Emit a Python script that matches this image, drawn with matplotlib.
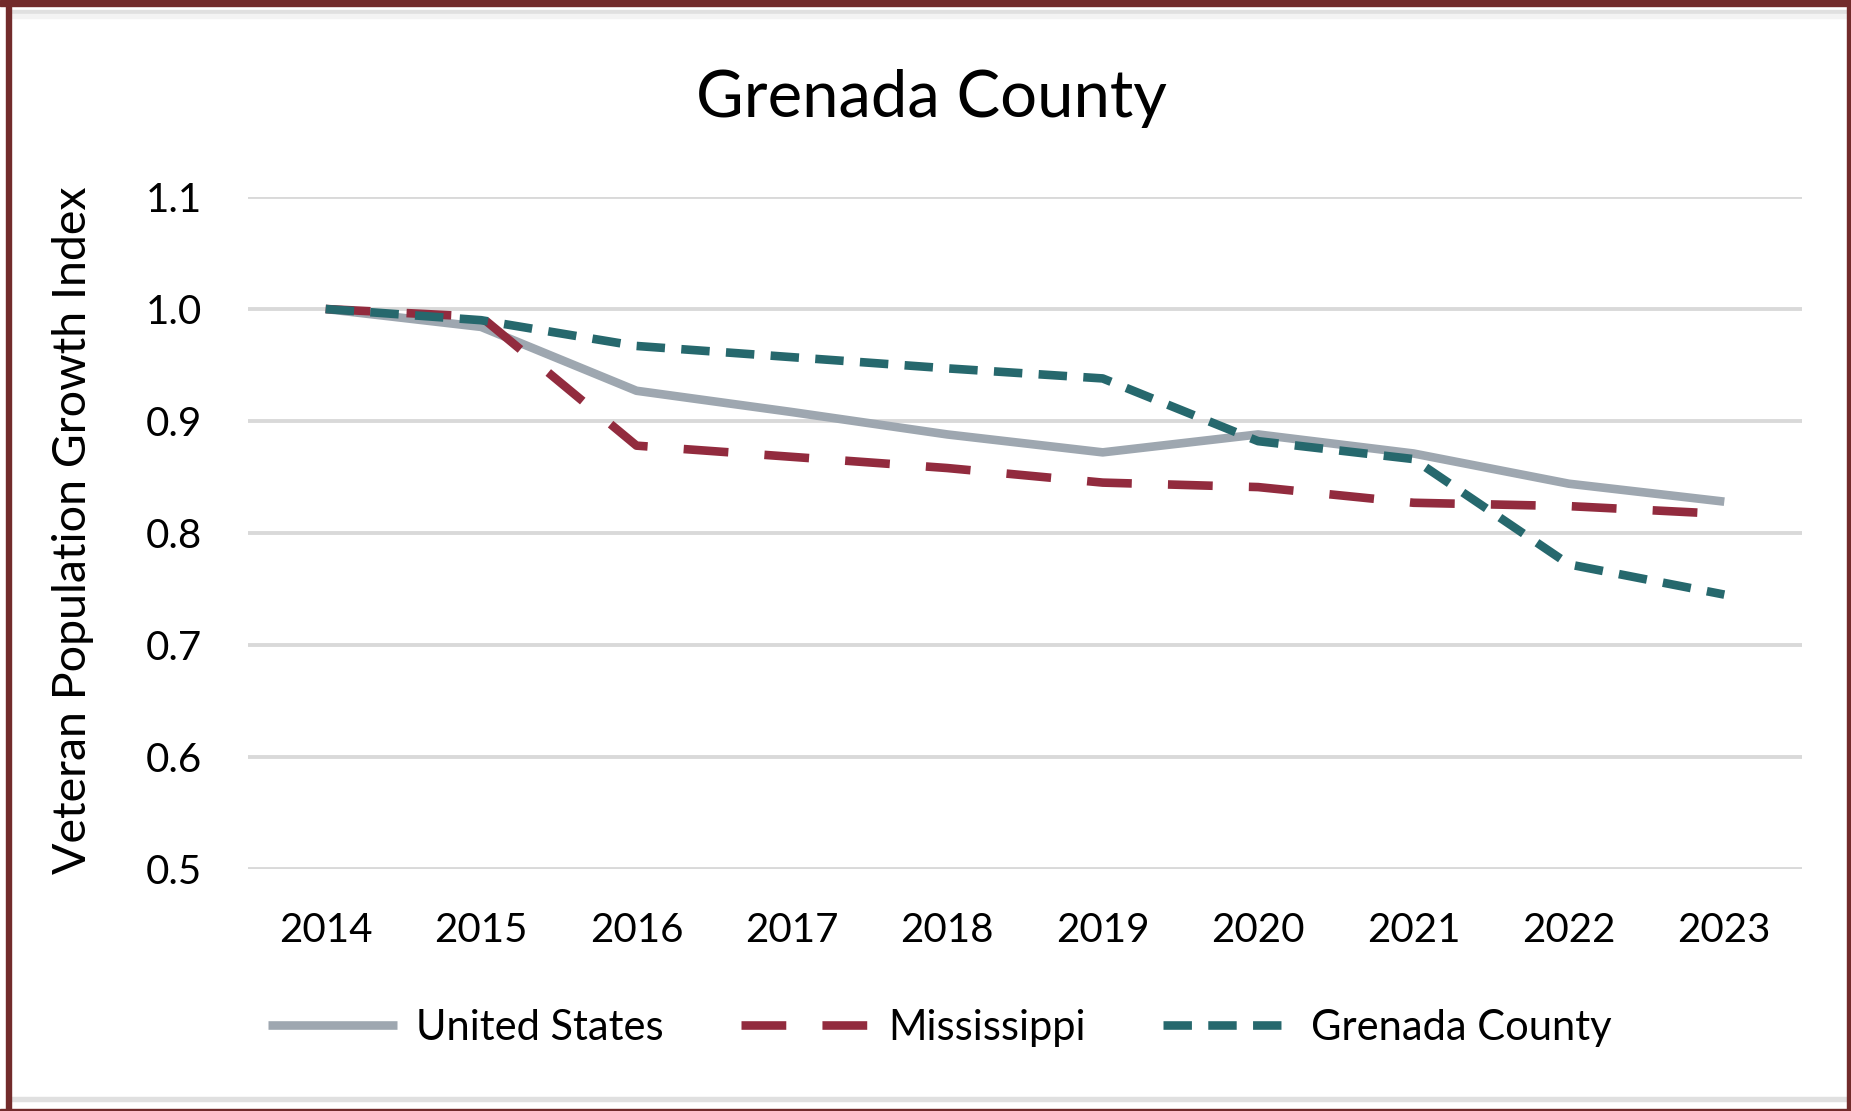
import matplotlib
matplotlib.use("Agg")
import matplotlib.pyplot as plt
from matplotlib.patches import Rectangle

years = ['2014', '2015', '2016', '2017', '2018', '2019', '2020', '2021', '2022', '2023']
united_states = [1.000, 0.984, 0.927, 0.908, 0.888, 0.872, 0.888, 0.871, 0.844, 0.828]
mississippi = [1.000, 0.993, 0.878, 0.868, 0.858, 0.845, 0.841, 0.827, 0.824, 0.817]
grenada = [1.000, 0.990, 0.967, 0.957, 0.947, 0.938, 0.882, 0.866, 0.772, 0.745]
y_ticks = [0.5, 0.6, 0.7, 0.8, 0.9, 1.0, 1.1]

plt.rcParams['font.family'] = ['Lato', 'DejaVu Sans']

W, H = 1851, 1111
fig = plt.figure(figsize=(W / 100, H / 100), dpi=100)
ax = fig.add_axes([248 / W, 1 - 869 / H, (1802 - 248) / W, (869 - 197) / H])

x = range(len(years))
lw = 6.2
ax.plot(x, united_states, color='#9EA7B0', lw=lw, solid_capstyle='butt',
        label='United States', zorder=3)
ax.plot(x, mississippi, color='#922B3E', lw=lw, linestyle=(0, (5.2, 4.2)),
        dash_capstyle='butt', label='Mississippi', zorder=4)
ax.plot(x, grenada, color='#26686D', lw=lw, linestyle=(0, (3.3, 1.9)),
        dash_capstyle='butt', label='Grenada County', zorder=5)

ax.set_xlim(-0.5, len(years) - 0.5)
ax.set_ylim(0.5, 1.1)
ax.set_xticks(list(x))
ax.set_xticklabels(years)
ax.set_yticks(y_ticks)
ax.set_yticklabels(['{:.1f}'.format(v) for v in y_ticks])
ax.tick_params(length=0, labelsize=29, colors='#000000')
ax.tick_params(axis='y', pad=33)
ax.tick_params(axis='x', pad=31)
ax.grid(axis='y', color='#D9D9D9', lw=2.8, zorder=0)
for s in ax.spines.values():
    s.set_visible(False)

fig.text(73 / W, 1 - 530 / H, 'Veteran Population Growth Index', rotation=90,
         ha='center', va='center', fontsize=33.5)
fig.text(931 / W, 1 - 117 / H, 'Grenada County', ha='center', va='baseline',
         fontsize=47)

fig.legend(loc='center', bbox_to_anchor=(940 / W, 1 - 1028 / H), ncol=3,
           frameon=False, fontsize=30, handlelength=3.1, columnspacing=1.85,
           handletextpad=0.45)

# outer frame
border = '#722B2B'
fig.patches.append(Rectangle((0, 1 - 6 / H), 1, 6 / H, transform=fig.transFigure,
                             color=border, zorder=10))
fig.patches.append(Rectangle((6 / W, 0), 5 / W, 1, transform=fig.transFigure,
                             color=border, zorder=10))
fig.patches.append(Rectangle((1 - 4 / W, 0), 4 / W, 1, transform=fig.transFigure,
                             color=border, zorder=10))
fig.patches.append(Rectangle((0, 0), 1, 2 / H, transform=fig.transFigure,
                             color=border, zorder=10))
fig.patches.append(Rectangle((11 / W, 1 - 14 / H), 1, 4 / H, transform=fig.transFigure,
                             color='#E0E0E0', zorder=9))
fig.patches.append(Rectangle((11 / W, 1 - 18 / H), 1, 4 / H, transform=fig.transFigure,
                             color='#F3F3F3', zorder=9))
fig.patches.append(Rectangle((11 / W, 1 - 1101 / H), 1, 4 / H, transform=fig.transFigure,
                             color='#E0E0E0', zorder=9))

fig.savefig('out.png', dpi=100)
